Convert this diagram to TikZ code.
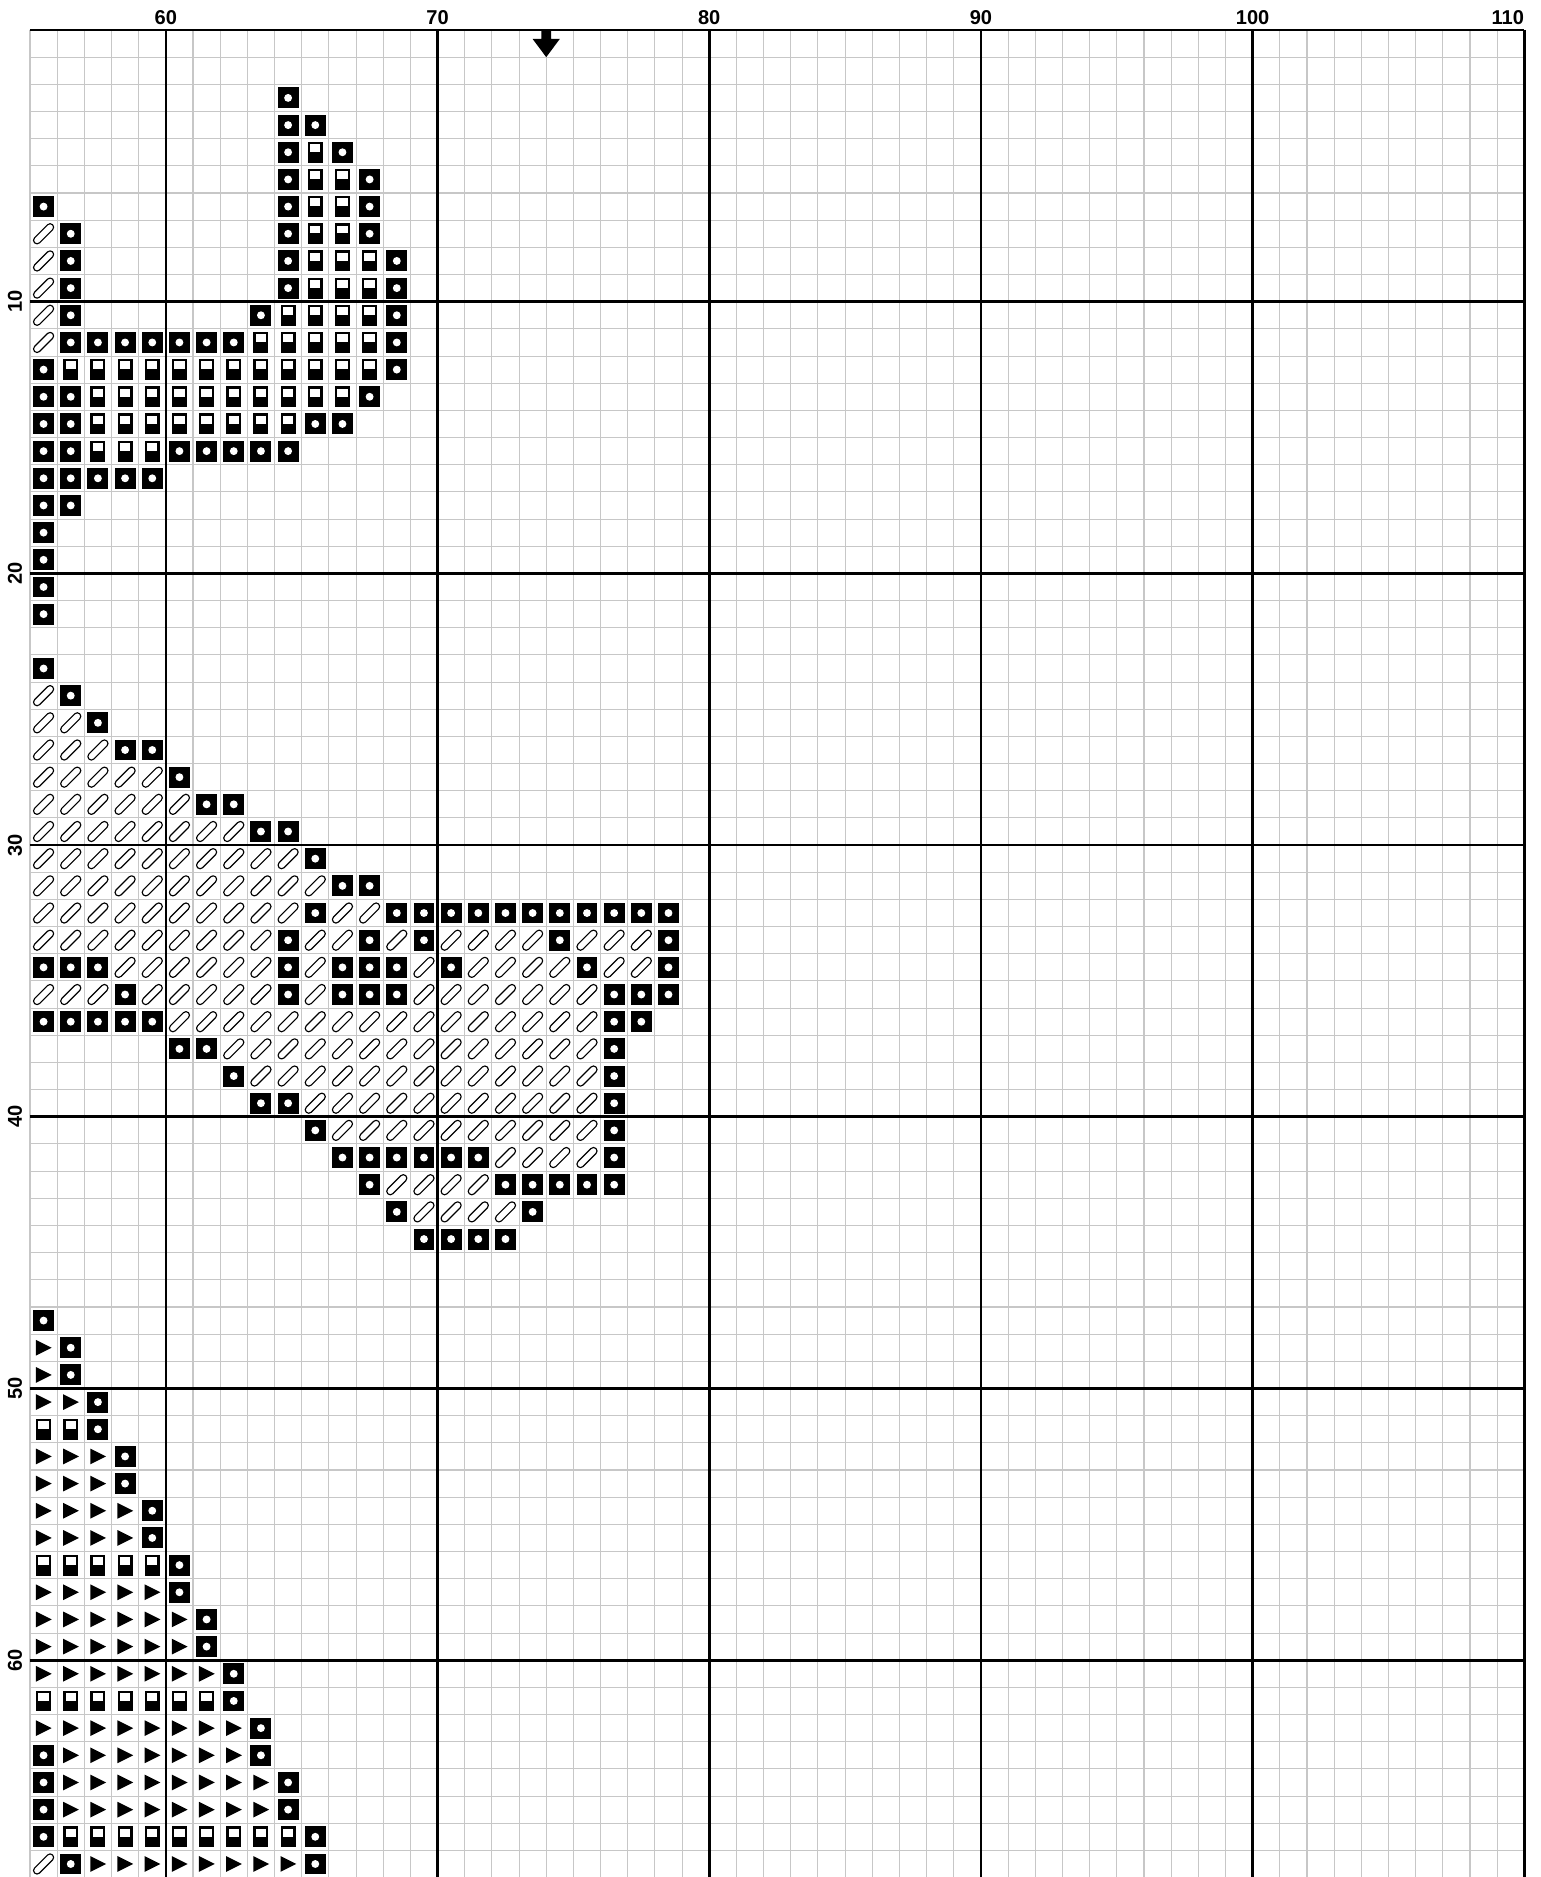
\documentclass[tikz,border=0pt]{standalone}
\usepackage{fontspec}
\setmainfont{Liberation Sans}
\tikzset{
  gridthin/.style={draw=black!22, line width=0.55pt},
  gridthick/.style={draw=black, line width=1.4pt},
  collab/.style={anchor=base, inner sep=0pt, font=\bfseries\fontsize{10.5}{12}\selectfont},
  rowlab/.style={anchor=center, rotate=90, inner sep=0pt, font=\bfseries\fontsize{10.5}{12}\selectfont},
  pillstyle/.style={draw=black, line width=0.6pt, line join=round},
}
% symbol macros: #1 column index, #2 row index
\newcommand\symo[2]{\fill[black] ({#1+0.115},{-#2-0.885}) rectangle ++(0.77,0.77);
  \fill[white] ({#1+0.5},{-#2-0.5}) circle (0.145);}
\newcommand\symh[2]{\fill[black] ({#1+0.225},{-#2-0.885}) rectangle ++(0.55,0.77);
  \fill[white] ({#1+0.31},{-#2-0.2}) rectangle ({#1+0.69},{-#2-0.49});}
\newcommand\symp[2]{\draw[pillstyle, shift={({#1+0.5},{-#2-0.5})}, rotate=45]
  (-0.34,-0.13) -- (0.34,-0.13) arc(-90:90:0.13) -- (-0.34,0.13) arc(90:270:0.13) -- cycle;}
\newcommand\symt[2]{\fill[black] ({#1+0.22},{-#2-0.21}) -- ({#1+0.8},{-#2-0.5}) -- ({#1+0.22},{-#2-0.79}) -- cycle;}
\newcommand\stitch[3]{\foreach \c in {#2}{\csname sym#1\endcsname{\c}{#3}}}
\begin{document}
\begin{tikzpicture}[x=0.5cm,y=0.5cm]
\useasboundingbox[fill=white] (-1.104,1.104) rectangle (55.58,-67.98);
% grid
\foreach \i in {0,...,55} \draw[gridthin] (\i,0) -- (\i,-68);
\foreach \j in {0,...,68} \draw[gridthin] (0,-\j) -- (55,-\j);
\foreach \i in {5,15,...,55} \draw[gridthick] (\i,0) -- (\i,-68);
\foreach \j in {0,10,...,60} \draw[gridthick] (0,-\j) -- (55,-\j);
% labels
\foreach \i/\v in {5/60,15/70,25/80,35/90,45/100} \node[collab] (c\v) at (\i,0.22) {\v};
\node[collab, anchor=base east] (c110) at (55,0.22) {110};
\foreach \j in {10,20,...,60} \node[rowlab] (r\j) at (-0.55,-\j) {\j};
% centre arrow
\fill[black] (18.82,0) -- (19.18,0) -- (19.18,-0.33) -- (19.5,-0.33) -- (19,-1.0) -- (18.5,-0.33) -- (18.82,-0.33) -- cycle;
% ---- upper motif
\stitch{o}{9}{2}
\stitch{o}{9,10}{3}
\stitch{o}{9,11}{4} \stitch{h}{10}{4}
\stitch{o}{9,12}{5} \stitch{h}{10,11}{5}
\stitch{o}{0,9,12}{6} \stitch{h}{10,11}{6}
\stitch{p}{0}{7} \stitch{o}{1,9,12}{7} \stitch{h}{10,11}{7}
\stitch{p}{0}{8} \stitch{o}{1,9,13}{8} \stitch{h}{10,11,12}{8}
\stitch{p}{0}{9} \stitch{o}{1,9,13}{9} \stitch{h}{10,11,12}{9}
\stitch{p}{0}{10} \stitch{o}{1,8,13}{10} \stitch{h}{9,...,12}{10}
\stitch{p}{0}{11} \stitch{o}{1,...,7}{11} \stitch{o}{13}{11} \stitch{h}{8,...,12}{11}
\stitch{o}{0,13}{12} \stitch{h}{1,...,12}{12}
\stitch{o}{0,1,12}{13} \stitch{h}{2,...,11}{13}
\stitch{o}{0,1,10,11}{14} \stitch{h}{2,...,9}{14}
\stitch{o}{0,1,5,6,7,8,9}{15} \stitch{h}{2,3,4}{15}
\stitch{o}{0,...,4}{16}
\stitch{o}{0,1}{17}
\stitch{o}{0}{18}
\stitch{o}{0}{19}
\stitch{o}{0}{20}
\stitch{o}{0}{21}
% ---- middle motif
\stitch{o}{0}{23}
\stitch{p}{0}{24} \stitch{o}{1}{24}
\stitch{p}{0,1}{25} \stitch{o}{2}{25}
\stitch{p}{0,1,2}{26} \stitch{o}{3,4}{26}
\stitch{p}{0,...,4}{27} \stitch{o}{5}{27}
\stitch{p}{0,...,5}{28} \stitch{o}{6,7}{28}
\stitch{p}{0,...,7}{29} \stitch{o}{8,9}{29}
\stitch{p}{0,...,9}{30} \stitch{o}{10}{30}
\stitch{p}{0,...,10}{31} \stitch{o}{11,12}{31}
\stitch{p}{0,...,9,11,12}{32} \stitch{o}{10,13,14,...,23}{32}
\stitch{p}{0,...,8,10,11,13,15,16,17,18,20,21,22}{33} \stitch{o}{9,12,14,19,23}{33}
\stitch{o}{0,1,2,9,11,12,13,15,20,23}{34} \stitch{p}{3,...,8,10,14,16,17,18,19,21,22}{34}
\stitch{p}{0,1,2,4,5,6,7,8,10,14,15,...,20}{35} \stitch{o}{3,9,11,12,13,21,22,23}{35}
\stitch{o}{0,...,4,21,22}{36} \stitch{p}{5,...,20}{36}
\stitch{o}{5,6,21}{37} \stitch{p}{7,...,20}{37}
\stitch{o}{7,21}{38} \stitch{p}{8,...,20}{38}
\stitch{o}{8,9,21}{39} \stitch{p}{10,...,20}{39}
\stitch{o}{10,21}{40} \stitch{p}{11,...,20}{40}
\stitch{o}{11,...,16,21}{41} \stitch{p}{17,...,20}{41}
\stitch{o}{12,17,18,19,20,21}{42} \stitch{p}{13,...,16}{42}
\stitch{o}{13,18}{43} \stitch{p}{14,...,17}{43}
\stitch{o}{14,...,17}{44}
% ---- lower motif
\stitch{o}{0}{47}
\stitch{t}{0}{48} \stitch{o}{1}{48}
\stitch{t}{0}{49} \stitch{o}{1}{49}
\stitch{t}{0,1}{50} \stitch{o}{2}{50}
\stitch{h}{0,1}{51} \stitch{o}{2}{51}
\stitch{t}{0,1,2}{52} \stitch{o}{3}{52}
\stitch{t}{0,1,2}{53} \stitch{o}{3}{53}
\stitch{t}{0,...,3}{54} \stitch{o}{4}{54}
\stitch{t}{0,...,3}{55} \stitch{o}{4}{55}
\stitch{h}{0,...,4}{56} \stitch{o}{5}{56}
\stitch{t}{0,...,4}{57} \stitch{o}{5}{57}
\stitch{t}{0,...,5}{58} \stitch{o}{6}{58}
\stitch{t}{0,...,5}{59} \stitch{o}{6}{59}
\stitch{t}{0,...,6}{60} \stitch{o}{7}{60}
\stitch{h}{0,...,6}{61} \stitch{o}{7}{61}
\stitch{t}{0,...,7}{62} \stitch{o}{8}{62}
\stitch{o}{0,8}{63} \stitch{t}{1,...,7}{63}
\stitch{o}{0,9}{64} \stitch{t}{1,...,8}{64}
\stitch{o}{0,9}{65} \stitch{t}{1,...,8}{65}
\stitch{o}{0,10}{66} \stitch{h}{1,...,9}{66}
\stitch{p}{0}{67} \stitch{o}{1,10}{67} \stitch{t}{2,...,9}{67}
\end{tikzpicture}
\end{document}
